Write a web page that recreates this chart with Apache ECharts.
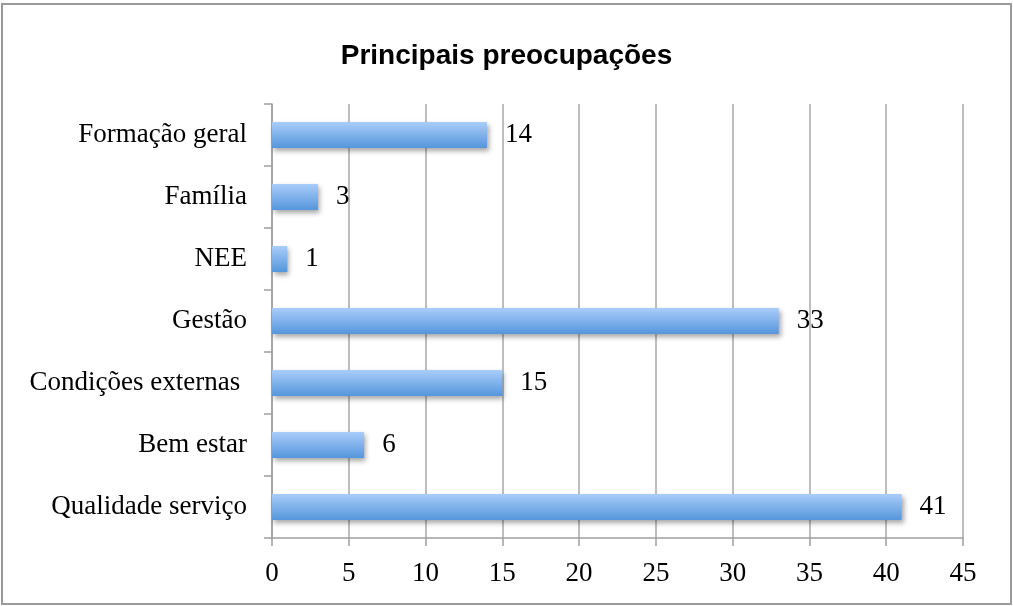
<!DOCTYPE html>
<html>
<head>
<meta charset="utf-8">
<script src="https://cdn.jsdelivr.net/npm/echarts@6/dist/echarts.min.js"></script>
<style>
  html, body { margin: 0; padding: 0; background: #fff; }
  #chart { width: 1013px; height: 606px; }
</style>
</head>
<body>
<div id="chart"></div>
<script>
  // categories from bottom to top, as drawn
  var categories = ['Qualidade serviço', 'Bem estar', 'Condições externas ', 'Gestão', 'NEE', 'Família', 'Formação geral'];
  var counts = [41, 6, 15, 33, 1, 3, 14];
  var xTicks = [0, 5, 10, 15, 20, 25, 30, 35, 40, 45];

  var chart = echarts.init(document.getElementById('chart'));
  var serif = '"Liberation Serif", "DejaVu Serif", serif';

  chart.setOption({
    animation: false,
    title: {
      text: 'Principais preocupações',
      left: 'center',
      top: 37,
      textStyle: { fontFamily: '"Liberation Sans", Arial, sans-serif', fontWeight: 'bold', fontSize: 28, color: '#000' }
    },
    graphic: [{
      type: 'rect',
      shape: { x: 2, y: 4, width: 1009, height: 600 },
      style: { fill: null, stroke: '#9a9a9a', lineWidth: 2 },
      silent: true
    }],
    grid: { left: 272, right: 50, top: 104, bottom: 68 },
    xAxis: {
      type: 'value',
      min: xTicks[0],
      max: xTicks[xTicks.length - 1],
      interval: 5,
      axisLine: { show: true, lineStyle: { color: '#a0a0a0', width: 1.5 } },
      axisTick: { show: true, length: 8, lineStyle: { color: '#a0a0a0', width: 1.5 } },
      axisLabel: { color: '#000', fontFamily: serif, fontSize: 27, margin: 22 },
      splitLine: { show: true, lineStyle: { color: '#a8a8a8', width: 1.5 } }
    },
    yAxis: {
      type: 'category',
      data: categories,
      axisLine: { show: true, lineStyle: { color: '#a0a0a0', width: 1.5 } },
      axisTick: { show: true, length: 8, lineStyle: { color: '#a0a0a0', width: 1.5 } },
      axisLabel: { color: '#000', fontFamily: serif, fontSize: 27, margin: 25 }
    },
    series: [{
      type: 'bar',
      data: counts,
      barWidth: 26,
      itemStyle: {
        color: new echarts.graphic.LinearGradient(0, 0, 0, 1, [
          { offset: 0, color: '#a9cdfa' },
          { offset: 1, color: '#5596dc' }
        ]),
        shadowColor: 'rgba(0,0,0,0.35)',
        shadowBlur: 5,
        shadowOffsetX: 2,
        shadowOffsetY: 3
      },
      label: {
        show: true,
        position: 'right',
        distance: 18,
        color: '#000',
        fontFamily: serif,
        fontSize: 27
      }
    }]
  });
</script>
</body>
</html>
